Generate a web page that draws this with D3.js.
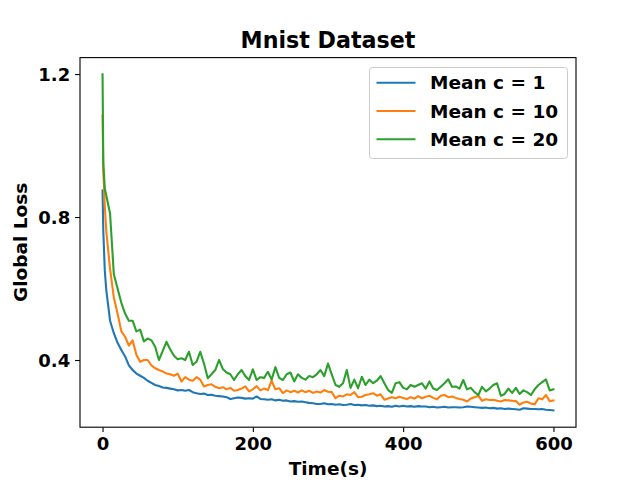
<html>
<head>
<meta charset="utf-8">
<title>Mnist Dataset</title>
<style>
  body { margin: 0; background: #fff; }
  svg text { font-family: "DejaVu Sans", sans-serif; font-weight: bold; fill: #000; }
</style>
</head>
<body>
<svg id="chart" width="640" height="480"></svg>

<script src="https://cdnjs.cloudflare.com/ajax/libs/d3/7.8.5/d3.min.js"></script>
<script>
// time stamps (s): a few early samples, then every 5 s
var headTimes = [0, 1, 3];
var times = headTimes.concat(d3.range(5, 601, 5));

var seriesNames = ["Mean c = 1", "Mean c = 10", "Mean c = 20"];
var seriesColors = ["#1f77b4", "#ff7f0e", "#2ca02c"];

var lossC1 = [0.874, 0.76, 0.65,
  0.595, 0.51, 0.475, 0.448, 0.428, 0.41, 0.385, 0.372, 0.362, 0.356,
  0.350, 0.342, 0.336, 0.330, 0.327, 0.323, 0.322, 0.320, 0.318, 0.315,
  0.316, 0.314, 0.316, 0.310, 0.307, 0.305, 0.306, 0.302, 0.303, 0.300,
  0.299, 0.298, 0.296, 0.291, 0.293, 0.295, 0.294, 0.292, 0.293, 0.292,
  0.298, 0.291, 0.290, 0.289, 0.290, 0.287, 0.289, 0.286, 0.287, 0.284,
  0.285, 0.283, 0.284, 0.282, 0.280, 0.279, 0.277, 0.277, 0.279, 0.276,
  0.277, 0.275, 0.276, 0.274, 0.275, 0.277, 0.274, 0.275, 0.273, 0.274,
  0.272, 0.273, 0.271, 0.272, 0.270, 0.271, 0.269, 0.272, 0.270, 0.272,
  0.270, 0.271, 0.269, 0.271, 0.270, 0.270, 0.268, 0.269, 0.267, 0.268,
  0.269, 0.267, 0.268, 0.268, 0.267, 0.268, 0.270, 0.269, 0.268, 0.267,
  0.266, 0.267, 0.265, 0.266, 0.264, 0.265, 0.263, 0.264, 0.263, 0.262,
  0.261, 0.265, 0.264, 0.263, 0.263, 0.262, 0.263, 0.261, 0.260, 0.259];

var lossC10 = [1.083, 0.93, 0.83,
  0.76, 0.655, 0.575, 0.53, 0.48, 0.465, 0.44, 0.455, 0.415, 0.395,
  0.40, 0.40, 0.385, 0.377, 0.372, 0.368, 0.362, 0.360, 0.356, 0.362,
  0.340, 0.352, 0.345, 0.342, 0.352, 0.345, 0.326, 0.330, 0.332, 0.325,
  0.321, 0.324, 0.318, 0.322, 0.314, 0.316, 0.320, 0.326, 0.312, 0.318,
  0.327, 0.315, 0.320, 0.316, 0.342, 0.318, 0.321, 0.307, 0.315, 0.310,
  0.314, 0.309, 0.315, 0.310, 0.314, 0.308, 0.312, 0.309, 0.316, 0.311,
  0.310, 0.293, 0.300, 0.298, 0.304, 0.302, 0.310, 0.296, 0.297, 0.302,
  0.304, 0.307, 0.300, 0.304, 0.289, 0.292, 0.296, 0.293, 0.297, 0.294,
  0.291, 0.296, 0.292, 0.299, 0.293, 0.297, 0.300, 0.294, 0.290, 0.300,
  0.302, 0.296, 0.298, 0.294, 0.291, 0.289, 0.284, 0.292, 0.296, 0.300,
  0.286, 0.290, 0.288, 0.289, 0.286, 0.284, 0.288, 0.287, 0.286, 0.285,
  0.275, 0.281, 0.283, 0.278, 0.276, 0.293, 0.290, 0.302, 0.285, 0.287];

var lossC20 = [1.199, 0.95, 0.88,
  0.86, 0.81, 0.64, 0.60, 0.56, 0.53, 0.51, 0.51, 0.48, 0.485,
  0.452, 0.46, 0.455, 0.437, 0.40, 0.425, 0.451, 0.43, 0.412, 0.402,
  0.405, 0.40, 0.423, 0.386, 0.395, 0.423, 0.39, 0.349, 0.36, 0.372,
  0.40, 0.375, 0.365, 0.36, 0.344, 0.36, 0.372, 0.355, 0.344, 0.374,
  0.344, 0.352, 0.35, 0.367, 0.345, 0.38, 0.35, 0.344, 0.36, 0.365,
  0.34, 0.36, 0.35, 0.345, 0.355, 0.352, 0.36, 0.372, 0.355, 0.39,
  0.36, 0.33, 0.325, 0.335, 0.372, 0.322, 0.345, 0.321, 0.353, 0.33,
  0.345, 0.335, 0.342, 0.355, 0.335, 0.316, 0.308, 0.335, 0.338, 0.322,
  0.318, 0.33, 0.325, 0.33, 0.335, 0.32, 0.34, 0.32, 0.316, 0.325,
  0.335, 0.346, 0.325, 0.326, 0.32, 0.344, 0.318, 0.322, 0.31, 0.302,
  0.325, 0.312, 0.32, 0.33, 0.335, 0.30, 0.305, 0.32, 0.308, 0.322,
  0.305, 0.315, 0.31, 0.302, 0.318, 0.33, 0.338, 0.346, 0.315, 0.318];

var xTicks = [0, 200, 400, 600];
var yTicks = [0.4, 0.8, 1.2];

var allSeries = [lossC1, lossC10, lossC20];

var svg = d3.select("#chart");
var margin = { left: 80, right: 64, top: 57.6, bottom: 52.8 };
var W = 640, H = 480;
var innerW = W - margin.left - margin.right;
var innerH = H - margin.top - margin.bottom;

// matplotlib style 5% padding on the data range
var xExt = d3.extent(times);
var xPad = (xExt[1] - xExt[0]) * 0.05;
var yExt = d3.extent(d3.merge(allSeries));
var yPad = (yExt[1] - yExt[0]) * 0.05;

var x = d3.scaleLinear().domain([xExt[0] - xPad, xExt[1] + xPad]).range([0, innerW]);
var y = d3.scaleLinear().domain([yExt[0] - yPad, yExt[1] + yPad]).range([innerH, 0]);

var g = svg.append("g").attr("transform", "translate(" + margin.left + "," + margin.top + ")");

var tickLen = 4.9;

var xAxis = g.append("g")
  .attr("transform", "translate(0," + innerH + ")")
  .call(d3.axisBottom(x).tickValues(xTicks).tickSize(tickLen).tickPadding(4.9).tickSizeOuter(0));
xAxis.select(".domain").remove();
xAxis.selectAll("text").style("font-size", "18px").attr("dy", "0.75em");
xAxis.selectAll("line").attr("stroke", "#000").attr("stroke-width", 1.1);

var yAxis = g.append("g")
  .call(d3.axisLeft(y).tickValues(yTicks).tickFormat(d3.format(".1f")).tickSize(tickLen).tickPadding(4.9).tickSizeOuter(0));
yAxis.select(".domain").remove();
yAxis.selectAll("text").style("font-size", "18px").attr("dy", "0.36em");
yAxis.selectAll("line").attr("stroke", "#000").attr("stroke-width", 1.1);

var line = d3.line()
  .x(function(d, i) { return x(times[i]); })
  .y(function(d) { return y(d); });

g.selectAll("path.series")
  .data(allSeries)
  .enter()
  .append("path")
  .attr("class", "series")
  .attr("d", line)
  .attr("fill", "none")
  .attr("stroke", function(d, i) { return seriesColors[i]; })
  .attr("stroke-width", 2.1)
  .attr("stroke-linejoin", "round")
  .attr("stroke-linecap", "square");

// frame (all four spines)
g.append("rect")
  .attr("width", innerW)
  .attr("height", innerH)
  .attr("fill", "none")
  .attr("stroke", "#000")
  .attr("stroke-width", 1.1);

// title and axis labels
svg.append("text")
  .attr("x", margin.left + innerW / 2)
  .attr("y", 48)
  .attr("text-anchor", "middle")
  .style("font-size", "22.2px")
  .text("Mnist Dataset");

svg.append("text")
  .attr("x", margin.left + innerW / 2)
  .attr("y", 475)
  .attr("text-anchor", "middle")
  .style("font-size", "18.5px")
  .text("Time(s)");

svg.append("text")
  .attr("transform", "translate(27," + (margin.top + innerH / 2) + ") rotate(-90)")
  .attr("text-anchor", "middle")
  .style("font-size", "18.5px")
  .text("Global Loss");

// legend
var legend = svg.append("g").attr("transform", "translate(369.5,67.5)");
legend.append("rect")
  .attr("width", 198)
  .attr("height", 91)
  .attr("rx", 3)
  .attr("fill", "#fff")
  .attr("fill-opacity", 0.8)
  .attr("stroke", "#cccccc")
  .attr("stroke-width", 1);

var items = legend.selectAll("g.item")
  .data(seriesNames)
  .enter()
  .append("g")
  .attr("class", "item")
  .attr("transform", function(d, i) { return "translate(0," + (15.2 + i * 28.3) + ")"; });

items.append("line")
  .attr("x1", 7).attr("x2", 46)
  .attr("stroke", function(d, i) { return seriesColors[i]; })
  .attr("stroke-width", 2.1);

items.append("text")
  .attr("x", 60.5)
  .attr("y", 6.6)
  .style("font-size", "18.5px")
  .text(function(d) { return d; });
</script>
</body>
</html>
